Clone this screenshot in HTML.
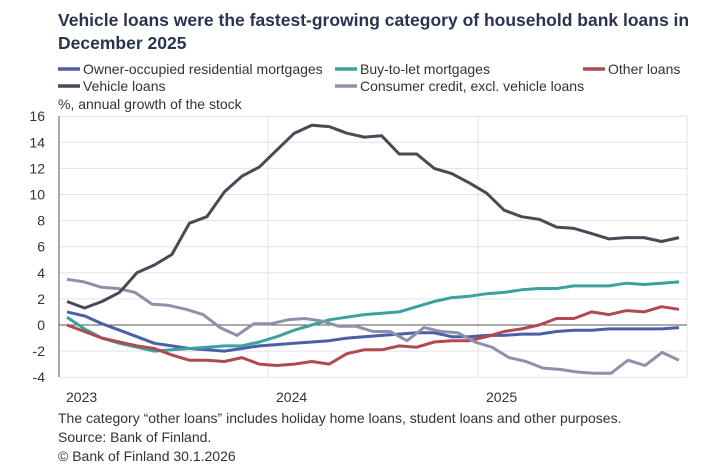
<!DOCTYPE html>
<html><head><meta charset="utf-8"><style>
body{margin:0;background:#fff;font-family:"Liberation Sans",sans-serif;}
</style></head><body>
<svg width="720" height="470" xmlns="http://www.w3.org/2000/svg" font-family="Liberation Sans, sans-serif">
<text x="58" y="26" font-size="17.5" font-weight="bold" fill="#2a3350">Vehicle loans were the fastest-growing category of household bank loans in</text>
<text x="58" y="49" font-size="17.5" font-weight="bold" fill="#2a3350">December 2025</text>
<g font-size="14" fill="#333">
<line x1="58" y1="69" x2="80" y2="69" stroke="#4a5fa8" stroke-width="3.5"/><text x="83" y="74">Owner-occupied residential mortgages</text>
<line x1="335" y1="69" x2="357" y2="69" stroke="#3aa3a0" stroke-width="3.5"/><text x="360" y="74">Buy-to-let mortgages</text>
<line x1="583" y1="69" x2="605" y2="69" stroke="#b04a4e" stroke-width="3.5"/><text x="608" y="74">Other loans</text>
<line x1="58" y1="86" x2="80" y2="86" stroke="#454b57" stroke-width="3.5"/><text x="83" y="91">Vehicle loans</text>
<line x1="335" y1="86" x2="357" y2="86" stroke="#8e92a8" stroke-width="3.5"/><text x="360" y="91">Consumer credit, excl. vehicle loans</text>
<text x="58" y="109">%, annual growth of the stock</text>
</g>
<g id="grid" stroke="#e3e3e3" stroke-width="1"></g>
<g id="ylab" font-size="14" fill="#333" text-anchor="end"></g>
<line x1="268" y1="116" x2="268" y2="377" stroke="#e3e3e3"/>
<line x1="478" y1="116" x2="478" y2="377" stroke="#e3e3e3"/>
<line x1="687" y1="116" x2="687" y2="377" stroke="#e3e3e3"/>
<line x1="59" y1="116" x2="59" y2="377" stroke="#555"/>
<line x1="59" y1="325" x2="687" y2="325" stroke="#555"/>
<g font-size="14" fill="#333">
<text x="66" y="402">2023</text><text x="276" y="402">2024</text><text x="486" y="402">2025</text>
<text x="58" y="423">The category “other loans” includes holiday home loans, student loans and other purposes.</text>
<text x="58" y="442">Source: Bank of Finland.</text>
<text x="58" y="461">© Bank of Finland 30.1.2026</text>
</g>
<g id="series" fill="none" stroke-width="3" stroke-linejoin="round"></g>
</svg>
<script>
var ns="http://www.w3.org/2000/svg";
function Y(v){return 325-v*13.05;}
var g=document.getElementById('grid'),yl=document.getElementById('ylab');
for(var v=-4;v<=16;v+=2){var y=Y(v);if(v!=0&&v!=-4||true){var l=document.createElementNS(ns,'line');l.setAttribute('x1',59);l.setAttribute('x2',687);l.setAttribute('y1',y);l.setAttribute('y2',y);g.appendChild(l);}
var t=document.createElementNS(ns,'text');t.setAttribute('x',45);t.setAttribute('y',y+5);t.textContent=v;yl.appendChild(t);}
var S=[
["#4a5fa8",[1.0,0.7,0.1,-0.4,-0.9,-1.4,-1.6,-1.8,-1.9,-2.0,-1.8,-1.6,-1.5,-1.4,-1.3,-1.2,-1.0,-0.9,-0.8,-0.7,-0.6,-0.6,-0.9,-0.9,-0.8,-0.8,-0.7,-0.7,-0.5,-0.4,-0.4,-0.3,-0.3,-0.3,-0.3,-0.2]],
["#3aa3a0",[0.6,-0.3,-1.0,-1.4,-1.7,-2.0,-1.9,-1.8,-1.7,-1.6,-1.6,-1.3,-0.9,-0.4,0.0,0.4,0.6,0.8,0.9,1.0,1.4,1.8,2.1,2.2,2.4,2.5,2.7,2.8,2.8,3.0,3.0,3.0,3.2,3.1,3.2,3.3]],
["#b04a4e",[0,-0.5,-1.0,-1.3,-1.6,-1.8,-2.3,-2.7,-2.7,-2.8,-2.5,-3.0,-3.1,-3.0,-2.8,-3.0,-2.2,-1.9,-1.9,-1.6,-1.7,-1.3,-1.2,-1.2,-0.9,-0.5,-0.3,0.0,0.5,0.5,1.0,0.8,1.1,1.0,1.4,1.2]],
["#8e92a8",[3.5,3.3,2.9,2.8,2.5,1.6,1.5,1.2,0.8,-0.2,-0.8,0.1,0.1,0.4,0.5,0.3,-0.1,-0.1,-0.5,-0.5,-1.2,-0.2,-0.5,-0.6,-1.3,-1.7,-2.5,-2.8,-3.3,-3.4,-3.6,-3.7,-3.7,-2.7,-3.1,-2.1,-2.7]],
["#454b57",[1.8,1.3,1.8,2.5,4.0,4.6,5.4,7.8,8.3,10.2,11.4,12.1,13.4,14.7,15.3,15.2,14.7,14.4,14.5,13.1,13.1,12.0,11.6,10.9,10.1,8.8,8.3,8.1,7.5,7.4,7.0,6.6,6.7,6.7,6.4,6.7]]
];
var sg=document.getElementById('series');
S.forEach(function(s){var d=s[1],n=d.length,step=(679-67)/(n-1),p="";
d.forEach(function(v,i){p+=(i?"L":"M")+(67+i*step).toFixed(1)+","+Y(v).toFixed(1);});
var e=document.createElementNS(ns,'path');e.setAttribute('d',p);e.setAttribute('stroke',s[0]);sg.appendChild(e);});
</script>
</body></html>
